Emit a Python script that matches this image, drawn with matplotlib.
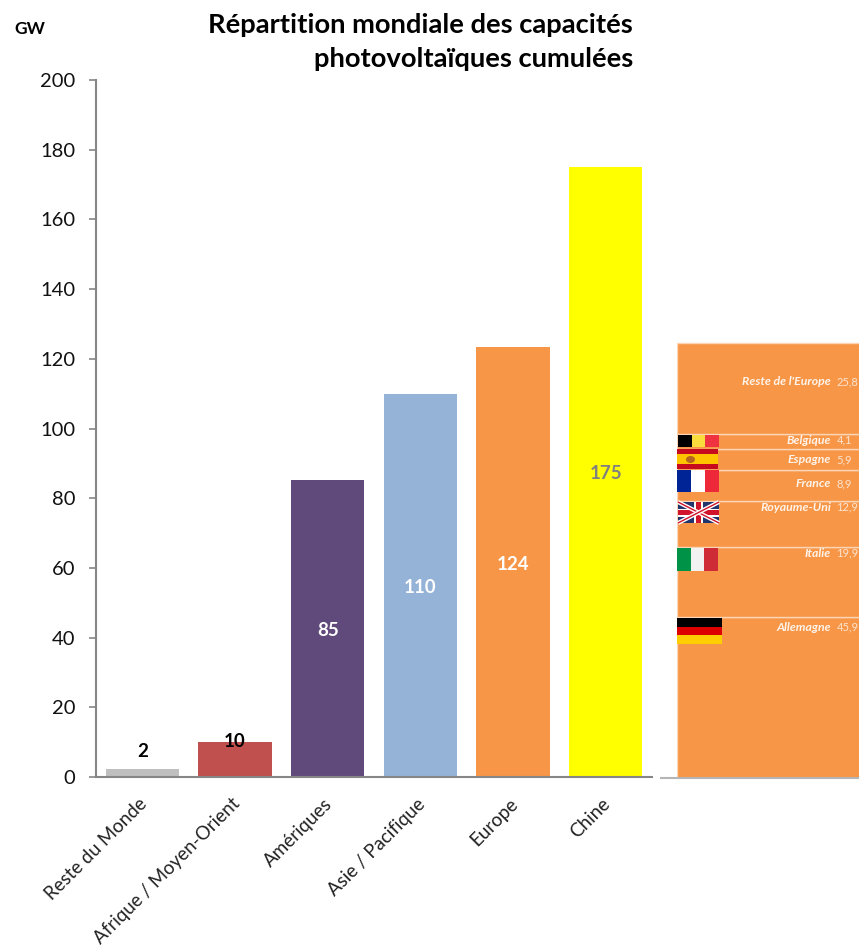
import matplotlib
matplotlib.use("Agg")
import matplotlib.pyplot as plt
from matplotlib.patches import Rectangle, Ellipse
from matplotlib.transforms import ScaledTranslation

plt.rcParams['font.family'] = ['Lato', 'DejaVu Sans']

W, H = 859, 946

regions = ['Reste du Monde', 'Afrique / Moyen-Orient', 'Amériques', 'Asie / Pacifique', 'Europe', 'Chine']
heights = [2.3, 10, 85.3, 110, 123.5, 175]
labels = ['2', '10', '85', '110', '124', '175']
colors = ['#bfbfbf', '#c0504d', '#604a7b', '#95b3d7', '#f79646', '#ffff00']

countries = ['Allemagne', 'Italie', 'Royaume-Uni', 'France', 'Espagne', 'Belgique', "Reste de l'Europe"]
shares = [45.9, 19.9, 12.9, 8.9, 5.9, 4.1, 25.8]
share_labels = ['45,9', '19,9', '12,9', '8,9', '5,9', '4,1', '25,8']
# text height inside each segment, in GW
text_y = [43, 64, 77, 83.6, 90.4, 96, 112.5]


def px_axes(x0, y0, x1, y1):
    return fig.add_axes([x0 / W, 1 - y1 / H, (x1 - x0) / W, (y1 - y0) / H])


fig = plt.figure(figsize=(W / 100, H / 100), dpi=100)

ax = px_axes(96, 80, 652, 777)
ax.bar(range(6), heights, width=0.79, color=colors)
ax.set_xlim(-0.5, 5.5)
ax.set_ylim(0, 200)
ax.set_yticks(range(0, 201, 20))
ax.set_xticks(range(6))
ax.set_xticklabels(regions, rotation=45, ha='right', rotation_mode='anchor', fontsize=13.5, color='#222222')
ax.tick_params(axis='y', labelsize=14.5, color='#868686', length=5, width=1.2, labelcolor='#111111', pad=10)
ax.tick_params(axis='x', length=0, pad=13)
shift = ScaledTranslation(-4 / 100, 0, fig.dpi_scale_trans)
for t in ax.get_xticklabels():
    t.set_transform(t.get_transform() + shift)
for s in ['top', 'right']:
    ax.spines[s].set_visible(False)
for s in ['left', 'bottom']:
    ax.spines[s].set_color('#868686')
    ax.spines[s].set_linewidth(1.5)

ax.text(0, 7.2, labels[0], ha='center', va='center', fontsize=13.5, fontweight='bold', color='black')
ax.text(1, 10.3, labels[1], ha='center', va='center', fontsize=13.5, fontweight='bold', color='black')
ax.text(2, heights[2] / 2 - 0.7, labels[2], ha='center', va='center', fontsize=13.5, fontweight='bold', color='white')
ax.text(3, heights[3] / 2 - 0.7, labels[3], ha='center', va='center', fontsize=13.5, fontweight='bold', color='white')
ax.text(4, heights[4] / 2 - 0.7, labels[4], ha='center', va='center', fontsize=13.5, fontweight='bold', color='white')
ax.text(5, heights[5] / 2 - 0.5, labels[5], ha='center', va='center', fontsize=13.5, fontweight='bold', color='#808080')

# detail of the Europe bar, cut by the right edge
ax2 = px_axes(677, 73, W + 10, 779)
ax2.set_xlim(0, 1)
ax2.set_ylim(0, 200)
ax2.axis('off')
base = 0
for name, v, lab, ty in zip(countries, shares, share_labels, text_y):
    ax2.bar(0.5, v, width=1, bottom=base, color='#f79646', edgecolor='#fbd5b5', linewidth=1)
    base += v
    ax2.text(0.802, ty, name, ha='right', va='center', fontsize=8.8, fontweight='bold', style='italic', color='#fff3ea')
    ax2.text(0.83, ty, lab, ha='left', va='center', fontsize=8, color='#fde4d0')

fig.add_artist(plt.Line2D([661 / W, 1], [1 - 778 / H] * 2, color='#b5b5b5', lw=1.5))

# flags: box in pixels, stripes as (colour, fraction), horizontal or vertical
flags = [
    (678, 435, 719, 447, 'v', [('black', 1), ('#fadc3c', 1), ('#ef3340', 1)]),
    (677, 449, 718, 469, 'h', [('#c60b1e', 1), ('#ffc400', 2), ('#c60b1e', 1)]),
    (677, 470, 719, 492, 'v', [('#002395', 1), ('white', 1), ('#ed2939', 1)]),
    (677, 548, 718, 571, 'v', [('#009246', 1), ('#f1f2f1', 1), ('#ce2b37', 1)]),
    (677, 618, 722, 644, 'h', [('black', 1), ('#dd0000', 1), ('#ffce00', 1)]),
]


def px_rect(x0, y0, x1, y1, color):
    fig.add_artist(Rectangle((x0 / W, 1 - y1 / H), (x1 - x0) / W, (y1 - y0) / H, color=color, lw=0,
                             transform=fig.transFigure))


for x0, y0, x1, y1, kind, stripes in flags:
    total = sum(s[1] for s in stripes)
    pos = 0
    for col, frac in stripes:
        if kind == 'v':
            px_rect(x0 + (x1 - x0) * pos / total, y0, x0 + (x1 - x0) * (pos + frac) / total, y1, col)
        else:
            px_rect(x0, y0 + (y1 - y0) * pos / total, x1, y0 + (y1 - y0) * (pos + frac) / total, col)
        pos += frac

# crest on the spanish flag
fig.add_artist(Ellipse((690.5 / W, 1 - 459.5 / H), 9 / W, 7 / H, color='#b5651d', lw=0, transform=fig.transFigure))

# union jack
ux0, uy0, ux1, uy1 = 678, 502, 719, 523
px_rect(ux0, uy0, ux1, uy1, '#20346e')
for a, b in [((ux0, uy0), (ux1, uy1)), ((ux0, uy1), (ux1, uy0))]:
    xs = [a[0] / W, b[0] / W]
    ys = [1 - a[1] / H, 1 - b[1] / H]
    fig.add_artist(plt.Line2D(xs, ys, color='white', lw=3, solid_capstyle='butt'))
    fig.add_artist(plt.Line2D(xs, ys, color='#cf142b', lw=1, solid_capstyle='butt'))
um, vm = (ux0 + ux1) / 2, (uy0 + uy1) / 2
px_rect(um - 4.5, uy0, um + 4.5, uy1, 'white')
px_rect(ux0, vm - 4, ux1, vm + 4, 'white')
px_rect(um - 2.5, uy0, um + 2.5, uy1, '#cf142b')
px_rect(ux0, vm - 2.5, ux1, vm + 2.5, '#cf142b')

fig.text(633 / W, 1 - 25 / H, 'Répartition mondiale des capacités', ha='right', va='center',
         fontsize=19.7, fontweight='bold', color='black')
fig.text(633 / W, 1 - 59 / H, 'photovoltaïques cumulées', ha='right', va='center',
         fontsize=19.7, fontweight='bold', color='black')
fig.text(30 / W, 1 - 29 / H, 'GW', ha='center', va='center', fontsize=12.5, fontweight='bold', color='black')

fig.savefig('out.png', dpi=100)
